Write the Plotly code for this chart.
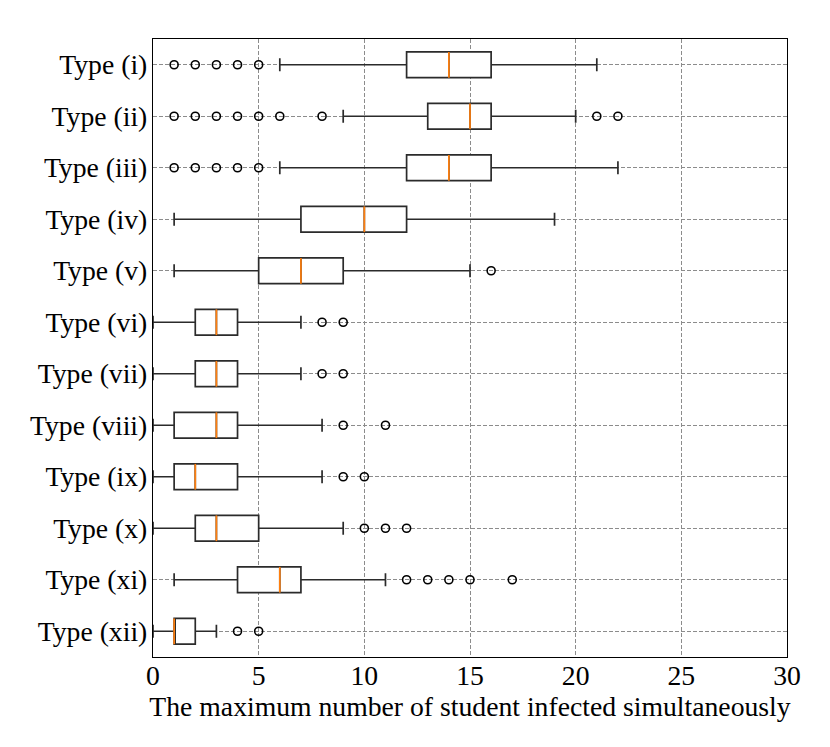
import plotly.graph_objects as go

labels = ["Type (i)", "Type (ii)", "Type (iii)", "Type (iv)", "Type (v)", "Type (vi)",
          "Type (vii)", "Type (viii)", "Type (ix)", "Type (x)", "Type (xi)", "Type (xii)"]
lower_whisker = [6, 9, 6, 1, 1, 0, 0, 0, 0, 0, 1, 0]
q1 = [12, 13, 12, 7, 5, 2, 2, 1, 1, 2, 4, 1]
median = [14, 15, 14, 10, 7, 3, 3, 3, 2, 3, 6, 1]
q3 = [16, 16, 16, 12, 9, 4, 4, 4, 4, 5, 7, 2]
upper_whisker = [21, 20, 22, 19, 15, 7, 7, 8, 8, 9, 11, 3]
outliers = [
    [1, 2, 3, 4, 5],
    [1, 2, 3, 4, 5, 6, 8, 21, 22],
    [1, 2, 3, 4, 5],
    [],
    [16],
    [8, 9],
    [8, 9],
    [9, 11],
    [9, 10],
    [10, 11, 12],
    [12, 13, 14, 15, 17],
    [4, 5],
]
x_ticks = [0, 5, 10, 15, 20, 25, 30]
x_title = "The maximum number of student infected simultaneously"

positions = list(range(1, len(labels) + 1))
box_w = 0.5

fig = go.Figure()
fig.add_trace(go.Box(
    y=positions, q1=q1, median=median, q3=q3,
    lowerfence=lower_whisker, upperfence=upper_whisker,
    orientation="h", boxpoints=False, width=box_w, whiskerwidth=0.5,
    fillcolor="white", line=dict(color="#2b2b2b", width=1.7),
    showlegend=False, hoverinfo="skip",
))

mx, my = [], []
for p, m in zip(positions, median):
    mx += [m, m, None]
    my += [p - box_w / 2, p + box_w / 2, None]
fig.add_trace(go.Scatter(x=mx, y=my, mode="lines",
                         line=dict(color="#ff7f0e", width=1.7),
                         showlegend=False, hoverinfo="skip"))

ox, oy = [], []
for p, vals in zip(positions, outliers):
    ox += vals
    oy += [p] * len(vals)
fig.add_trace(go.Scatter(x=ox, y=oy, mode="markers",
                         marker=dict(symbol="circle-open", size=8, color="black",
                                     line=dict(width=1.6, color="black")),
                         showlegend=False, hoverinfo="skip"))

font = dict(family="Liberation Serif, Times New Roman, serif", size=27.7, color="black")
axis_common = dict(showline=True, linecolor="black", linewidth=1.3, mirror=True,
                   showgrid=True, gridcolor="#8c8c8c", gridwidth=1, griddash="4px,2px",
                   zeroline=False, ticks="", tickfont=font)
fig.update_layout(
    width=830, height=747,
    margin=dict(l=145, r=51, t=31, b=98),
    paper_bgcolor="white", plot_bgcolor="white",
    font=font,
    xaxis=dict(range=[0, 30], tickvals=x_ticks, ticktext=[str(t) for t in x_ticks],
               ticklabelstandoff=-6,
               title=dict(text=x_title, font=font, standoff=4), **axis_common),
    yaxis=dict(range=[12.5, 0.5], tickvals=positions, ticktext=labels,
               ticklabelstandoff=-1, **axis_common),
)
fig.write_html("out.html")
